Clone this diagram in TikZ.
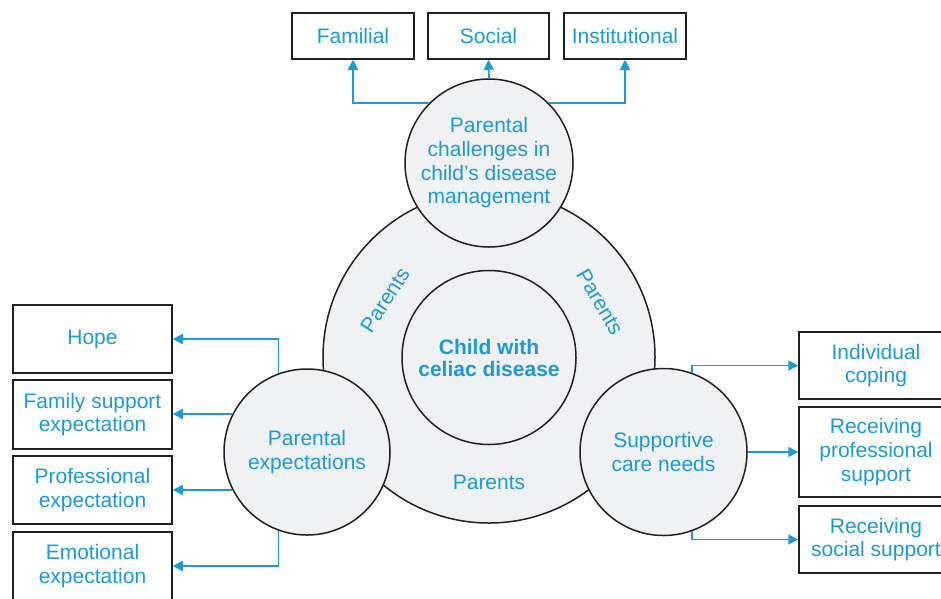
\documentclass[tikz,border=0pt]{standalone}
\usepackage{fontspec}
\setmainfont{Liberation Sans}
\usetikzlibrary{arrows.meta}
\definecolor{tblue}{HTML}{1A9BD8}
\definecolor{cfill}{HTML}{F0F1F3}
\definecolor{edgec}{HTML}{231F20}
\begin{document}
\begin{tikzpicture}[x=1pt,y=-1pt,
  txt/.style={text=tblue, font=\fontsize{21}{23.7}\selectfont, align=center},
  box/.style={txt, draw=edgec, line width=1.5pt, inner sep=0pt},
  circ/.style={circle, draw=edgec, fill=cfill, line width=1.5pt, txt, inner sep=0pt},
  arr/.style={draw=tblue, line width=1.7pt, -{Triangle[length=10pt,width=10pt]}}]
\useasboundingbox (0,0) rectangle (941,598);
\clip (0,0) rectangle (941,598);

% boxes top
\node[box, minimum width=122pt, minimum height=46pt] (fam) at (353,36) {Familial};
\node[box, minimum width=121pt, minimum height=46pt] (soc) at (488.5,36) {Social};
\node[box, minimum width=122pt, minimum height=46pt] (inst) at (625,36) {Institutional};

% boxes left
\node[box, minimum width=159pt, minimum height=68pt] (hope) at (92.5,339) {Hope};
\node[box, minimum width=159pt, minimum height=69pt] (famsup) at (92.5,414.5) {Family support\\expectation};
\node[box, minimum width=159pt, minimum height=68pt] (profexp) at (92.5,490) {Professional\\expectation};
\node[box, minimum width=159pt, minimum height=68pt] (emoexp) at (92.5,566) {Emotional\\expectation};

% boxes right
\node[box, minimum width=154pt, minimum height=67pt] (indcop) at (876,365.5) {Individual\\coping};
\node[box, minimum width=154pt, minimum height=90pt] (recprof) at (876,452) {Receiving\\professional\\support};
\node[box, minimum width=154pt, minimum height=67pt] (recsoc) at (876,539.5) {Receiving\\social support};

% circles
\node[circ, minimum size=332pt] (big) at (489,357) {};
\node[circ, minimum size=174pt, font=\bfseries\fontsize{21}{22}\selectfont] (child) at (489,357.5) {Child with\\celiac disease};
\node[circ, minimum size=168pt] (tc) at (489,163) {Parental\\challenges in\\child’s disease\\management};
\node[circ, minimum size=166pt] (lc) at (307,452) {Parental\\expectations};
\node[circ, minimum size=167pt] (rc) at (663.5,452) {Supportive\\care needs};

% parents labels
\node[txt, rotate=57, inner sep=0pt] (pl) at (385,300) {Parents};
\node[txt, rotate=-60, inner sep=0pt] (pr) at (600,302) {Parents};
\node[txt, inner sep=0pt] (pb) at (489,482) {Parents};

% arrows top
\draw[arr] (tc.135) -| (fam.south);
\draw[arr] (tc.north) -- (soc.south);
\draw[arr] (tc.45) -| (inst.south);

% arrows left
\draw[arr] (lc.110) |- (hope.east);
\draw[arr] (lc.153.5) -- (lc.153.5 -| famsup.east);
\draw[arr] (lc.207) -- (lc.207 -| profexp.east);
\draw[arr] (lc.250) |- (emoexp.east);

% arrows right
\draw[arr] (rc.70) |- (indcop.west);
\draw[arr] (rc.east) -- (recprof.west);
\draw[arr] (rc.290) |- (recsoc.west);
\end{tikzpicture}
\end{document}
